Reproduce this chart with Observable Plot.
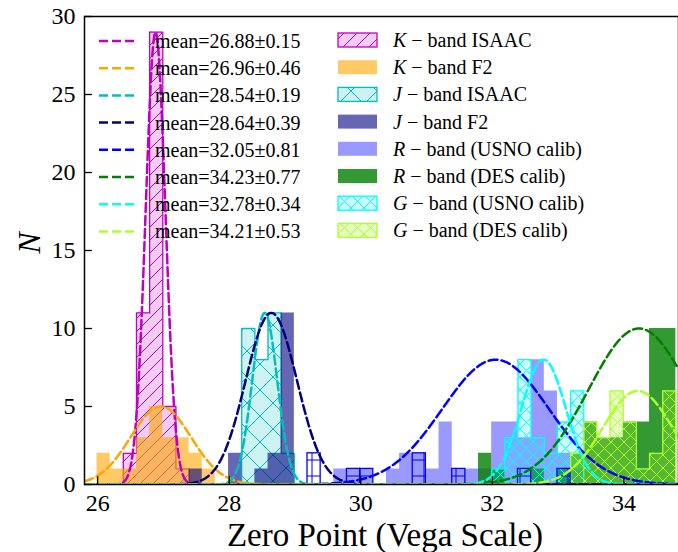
<!DOCTYPE html>
<html><head><meta charset="utf-8">
<script src="https://cdn.jsdelivr.net/npm/d3@7"></script>
<script src="https://cdn.jsdelivr.net/npm/@observablehq/plot@0.6"></script>
<style>
html,body{margin:0;padding:0;background:#fff;}
svg text{font-family:"Liberation Serif","DejaVu Serif",serif;}
</style></head><body><div id="chart"></div>
<script>
// ---- data ----
const binStart = 25.99;   // left edge of bin index 0
const binWidth = 0.2;
const xTicks = [26, 28, 30, 32, 34];
const yTicks = [0, 5, 10, 15, 20, 25, 30];

// histograms: first bin index + counts per bin
const kIsaacStart = 2,  kIsaacCounts = [2, 11, 29, 5, 1];
const kF2Start = 0,     kF2Counts = [2, 1, 1, 3, 5, 3, 3, 2, 1];
const jIsaacStart = 11, jIsaacCounts = [10, 8, 11, 2];
const jF2Start = 7,     jF2Counts = [1, 0, 0, 2, 0, 1, 2, 11];
const rUsnoStart = 18,  rUsnoCounts = [1, 1, 1, 0, 1, 2, 2, 1, 4, 1, 1, 1, 4, 4, 3, 8, 6, 2, 1];
const rDesStart = 29,   rDesCounts = [2, 1, 0, 0, 1, 0, 1, 2, 4, 3, 3, 4, 4, 10, 10];
const gUsnoStart = 30,  gUsnoCounts = [1, 3, 8, 3, 2, 4, 6];
const gDesStart = 36,   gDesCounts = [2, 4, 3, 6, 4, 1, 2, 6];
// open blue boxes with "+" hatch (bin index, count)
const plusBins = [16, 19, 20, 24, 27, 32, 35];
const plusCounts = [2, 1, 1, 2, 1, 1, 1];

// Gaussian fits
const fitLabels = ["mean=26.88\u00b10.15", "mean=26.96\u00b10.46", "mean=28.54\u00b10.19", "mean=28.64\u00b10.39",
                   "mean=32.05\u00b10.81", "mean=34.23\u00b10.77", "mean=32.78\u00b10.34", "mean=34.21\u00b10.53"];
const fitMeans  = [26.88, 26.96, 28.54, 28.64, 32.05, 34.23, 32.78, 34.21];
const fitSigmas = [0.15, 0.46, 0.19, 0.39, 0.81, 0.77, 0.34, 0.53];
const fitPeaks  = [29, 5, 11, 11, 8, 10, 8, 6];
const fitColors = ["#bf00bf", "#ffa500", "#00bfbf", "#000080", "#0000ff", "#008000", "#00ffff", "#adff2f"];

const histLabels = ["K|band ISAAC", "K|band F2", "J|band ISAAC", "J|band F2",
                    "R|band (USNO calib)", "R|band (DES calib)", "G|band (USNO calib)", "G|band (DES calib)"];

// ---- helpers ----
function stepPts(start, counts) {
  const pts = counts.map((c, i) => ({x: binStart + (start + i) * binWidth, y: c}));
  pts.push({x: binStart + (start + counts.length) * binWidth, y: counts[counts.length - 1]});
  return pts;
}
function outlinePts(start, counts) {
  const e0 = binStart + start * binWidth, en = binStart + (start + counts.length) * binWidth;
  return [{x: e0, y: 0}, ...stepPts(start, counts), {x: en, y: 0}];
}
const xDomain = [25.8, 34.83];
const gridX = d3.range(xDomain[0], xDomain[1] + 0.005, 0.01);
const curves = fitMeans.map((m, i) => gridX.map(x => ({x, y: fitPeaks[i] * Math.exp(-((x - m) ** 2) / (2 * fitSigmas[i] ** 2)), k: i})));

function hist(start, counts, fill, hatch, edge) {
  const m = [Plot.areaY(stepPts(start, counts), {x: "x", y: "y", curve: "step-after", fill})];
  if (hatch) m.push(Plot.areaY(stepPts(start, counts), {x: "x", y: "y", curve: "step-after", fill: hatch}));
  if (edge) m.push(Plot.line(outlinePts(start, counts), {x: "x", y: "y", curve: "step-after", stroke: edge, strokeWidth: 1.3}));
  return m;
}

const plusRows = plusBins.map((b, i) => ({x1: binStart + b * binWidth, x2: binStart + (b + 1) * binWidth, y: plusCounts[i]}));

const chart = Plot.plot({
  width: 678, height: 552,
  marginLeft: 84, marginRight: 0, marginTop: 16, marginBottom: 68,
  x: {domain: xDomain},
  y: {domain: [0, 30]},
  style: {fontFamily: "Liberation Serif", fontSize: "24px", color: "black", background: "white"},
  marks: [
    ...hist(kIsaacStart, kIsaacCounts, "rgba(191,0,191,0.2)", "url(#hK)", "#bf00bf"),
    ...hist(kF2Start, kF2Counts, "rgba(255,165,0,0.6)", null, null),
    ...hist(jIsaacStart, jIsaacCounts, "rgba(0,191,191,0.2)", "url(#hJ)", "#00bfbf"),
    ...hist(jF2Start, jF2Counts, "rgba(0,0,128,0.6)", null, null),
    ...hist(rUsnoStart, rUsnoCounts, "rgba(0,0,255,0.4)", null, null),
    ...hist(rDesStart, rDesCounts, "rgba(0,128,0,0.8)", null, null),
    ...hist(gUsnoStart, gUsnoCounts, "rgba(0,255,255,0.2)", "url(#hG1)", "#00ffff"),
    ...hist(gDesStart, gDesCounts, "rgba(173,255,47,0.3)", "url(#hG2)", "#adff2f"),
    Plot.rectY(plusRows, {x1: "x1", x2: "x2", y: "y", fill: "url(#hP)", stroke: "#0000ff", strokeWidth: 1.3}),
    ...curves.map((c, i) => Plot.line(c, {x: "x", y: "y", stroke: fitColors[i], strokeWidth: 2.5, strokeDasharray: "9,4", clip: true})),
    Plot.ruleX(xTicks, {y1: 0, y2: 0.5, stroke: "black", strokeWidth: 1.3}),
    Plot.ruleY(yTicks, {x1: xDomain[0], x2: xDomain[0] + 0.12, stroke: "black", strokeWidth: 1.3}),
    Plot.axisX({ticks: xTicks, tickSize: 0, tickPadding: 9, label: null, fontSize: 24}),
    Plot.axisY({ticks: yTicks, tickSize: 0, tickPadding: 9, label: null, fontSize: 24}),
    Plot.frame({stroke: "black", strokeWidth: 1.5})
  ]
});

// hatch patterns
const defs = d3.select(chart).insert("defs", ":first-child");
defs.html(`
<pattern id="hK" patternUnits="userSpaceOnUse" width="13" height="13">
  <path d="M-1,1 l2,-2 M0,13 l13,-13 M12,14 l2,-2" stroke="#bf00bf" stroke-width="1" fill="none"/></pattern>
<pattern id="hJ" patternUnits="userSpaceOnUse" width="26" height="26">
  <path d="M0,0 L26,26 M0,26 L26,0" stroke="#00bfbf" stroke-width="1" fill="none"/></pattern>
<pattern id="hG1" patternUnits="userSpaceOnUse" width="13" height="13">
  <path d="M0,0 L13,13 M0,13 L13,0" stroke="#00ffff" stroke-width="1" fill="none"/></pattern>
<pattern id="hG2" patternUnits="userSpaceOnUse" width="13" height="13">
  <path d="M0,0 L13,13 M0,13 L13,0" stroke="#adff2f" stroke-width="1" fill="none"/></pattern>
<pattern id="hP" patternUnits="userSpaceOnUse" width="16" height="16" y="4">
  <path d="M8,0 V16 M0,8 H16" stroke="#0000ff" stroke-width="1" fill="none"/></pattern>`);

const svg = d3.select(chart);
// legend: left column (fit curves)
const rowY0 = 41, rowStep = 27.2;
const lg = svg.append("g").attr("text-anchor", "start");
fitLabels.forEach((t, i) => {
  const y = rowY0 + i * rowStep;
  lg.append("line").attr("x1", 99).attr("x2", 135).attr("y1", y).attr("y2", y)
    .attr("stroke", fitColors[i]).attr("stroke-width", 2.5).attr("stroke-dasharray", "9,4");
  lg.append("text").attr("x", 155).attr("y", y).attr("dy", "0.35em").attr("text-anchor", "start")
    .attr("font-size", 20).attr("fill", "black").text(t);
});
// legend: right column (histograms)
const swFill = ["rgba(191,0,191,0.2)", "rgba(255,165,0,0.6)", "rgba(0,191,191,0.2)", "rgba(0,0,128,0.6)",
                "rgba(0,0,255,0.4)", "rgba(0,128,0,0.8)", "rgba(0,255,255,0.2)", "rgba(173,255,47,0.3)"];
const swHatch = ["url(#hK)", null, "url(#hJ)", null, null, null, "url(#hG1)", "url(#hG2)"];
const swEdge = ["#bf00bf", null, "#00bfbf", null, null, null, "#00ffff", "#adff2f"];
histLabels.forEach((t, i) => {
  const y = 40 + i * rowStep;
  lg.append("rect").attr("x", 338).attr("y", y - 7).attr("width", 39).attr("height", 14).attr("fill", swFill[i]);
  if (swHatch[i]) lg.append("rect").attr("x", 338).attr("y", y - 7).attr("width", 39).attr("height", 14)
    .attr("fill", swHatch[i]).attr("stroke", swEdge[i]).attr("stroke-width", 1.3);
  const [sym, rest] = t.split("|");
  const tx = lg.append("text").attr("x", 393).attr("y", y).attr("dy", "0.35em").attr("text-anchor", "start")
    .attr("font-size", 20).attr("fill", "black");
  tx.append("tspan").attr("font-style", "italic").text(sym);
  tx.append("tspan").text(" \u2212 " + rest);
});
// axis labels
svg.append("text").attr("x", 385).attr("y", 546).attr("text-anchor", "middle").attr("font-size", 33)
  .attr("fill", "black").text("Zero Point (Vega Scale)");
svg.append("text").attr("transform", "translate(40,243) rotate(-90)").attr("text-anchor", "middle")
  .attr("font-size", 32).attr("font-style", "italic").attr("fill", "black").text("N");

document.getElementById("chart").appendChild(chart);
</script></body></html>
